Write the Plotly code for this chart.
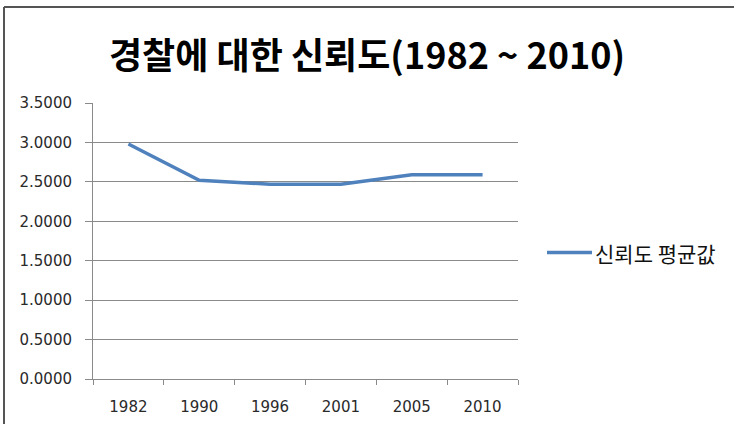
import plotly.graph_objects as go

# Survey years and mean trust score in the police
years = ["1982", "1990", "1996", "2001", "2005", "2010"]
trust_mean = [2.98, 2.52, 2.47, 2.47, 2.59, 2.59]
y_ticks = [0.0, 0.5, 1.0, 1.5, 2.0, 2.5, 3.0, 3.5]
y_tick_text = [f"{v:.4f}" for v in y_ticks]

title_text = "경찰에 대한 신뢰도(1982 ~ 2010)"
series_name = "신뢰도 평균값"

W, H = 734, 424
L, R, T, B = 93, 216, 103, 45
pw, ph = W - L - R, H - T - B


def px_x(x):
    return (x - L) / pw


def px_y(y):
    return (H - B - y) / ph


grid_color = "#8a8a8a"
line_color = "#4f81bd"
kr_font = "Noto Sans CJK KR"
tick_font = dict(family="DejaVu Sans", size=15, color="#2a2a2a")

fig = go.Figure()
fig.add_trace(go.Scatter(
    x=years, y=trust_mean, mode="lines", name=series_name,
    line=dict(color=line_color, width=3.5), showlegend=False,
))

fig.update_layout(
    width=W, height=H,
    margin=dict(l=L, r=R, t=T, b=B),
    paper_bgcolor="white", plot_bgcolor="white",
    xaxis=dict(
        type="category", range=[-0.5, 5.5], automargin=False,
        showgrid=False, showline=True, linecolor=grid_color, linewidth=1,
        ticks="outside", ticklen=5, tickcolor=grid_color,
        tickson="boundaries", ticklabelstandoff=14,
        tickfont=tick_font, zeroline=False,
    ),
    yaxis=dict(
        range=[0, 3.5], tickvals=y_ticks, ticktext=y_tick_text,
        automargin=False,
        showgrid=True, gridcolor=grid_color, gridwidth=1,
        showline=True, linecolor=grid_color, linewidth=1,
        ticks="outside", ticklen=7, tickcolor=grid_color,
        ticklabelstandoff=10, tickfont=tick_font, zeroline=False,
    ),
)

# Chart title
fig.add_annotation(
    text=f"<b>{title_text}</b>", xref="paper", yref="paper",
    x=px_x(367), y=px_y(53), xanchor="center", yanchor="middle",
    showarrow=False, font=dict(family=kr_font, size=36, color="#000000"),
)

# Legend: series key line and its label
fig.add_shape(type="line", xref="paper", yref="paper",
              x0=px_x(547), x1=px_x(592), y0=px_y(252.5), y1=px_y(252.5),
              line=dict(color=line_color, width=3.5))
fig.add_annotation(
    text=series_name, xref="paper", yref="paper",
    x=px_x(593), y=px_y(252.5), xanchor="left", yanchor="middle",
    showarrow=False, font=dict(family=kr_font, size=21, color="#111111"),
)

# Frame around the chart: top and left edges
fig.add_shape(type="line", xref="paper", yref="paper",
              x0=px_x(4), x1=px_x(734), y0=px_y(7), y1=px_y(7),
              line=dict(color="#555555", width=2))
fig.add_shape(type="line", xref="paper", yref="paper",
              x0=px_x(4), x1=px_x(4), y0=px_y(7), y1=px_y(424),
              line=dict(color="#555555", width=2))

fig.write_html("out.html")
